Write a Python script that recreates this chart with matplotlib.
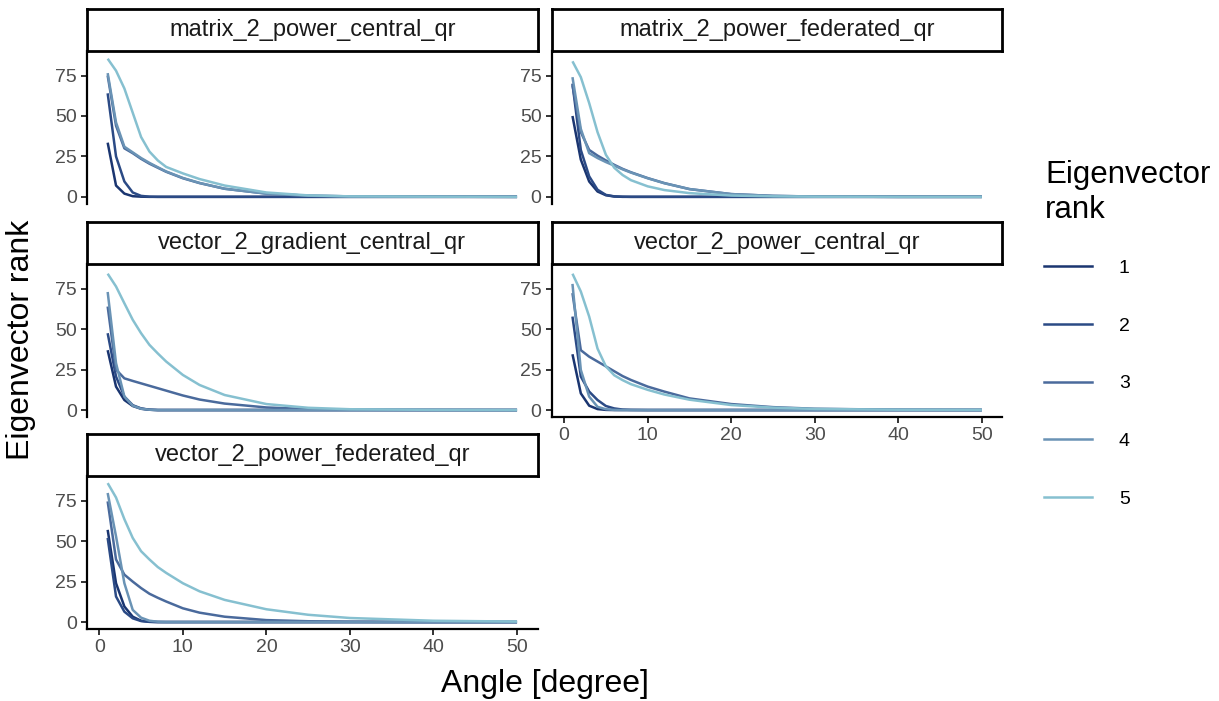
import matplotlib
matplotlib.use("Agg")
import matplotlib.pyplot as plt
from matplotlib.lines import Line2D

plt.rcParams['font.family'] = ['Liberation Sans', 'DejaVu Sans']

angle = [1, 2, 3, 4, 5, 6, 7, 8, 10, 12, 15, 20, 25, 30, 40, 50]

ranks = ['1', '2', '3', '4', '5']
rank_colors = ['#1a3570', '#2b4a85', '#4a6a9c', '#6a93b5', '#86c0d0']

# one row per eigenvector rank (1..5)
matrix_2_power_central_qr = [
    [33.5, 7.0, 2.0, 0.4, 0.1, 0, 0, 0, 0, 0, 0, 0, 0, 0, 0, 0],
    [64.0, 25.0, 9.5, 2.7, 0.6, 0.1, 0, 0, 0, 0, 0, 0, 0, 0, 0, 0],
    [75.0, 44.0, 30.0, 27.0, 23.5, 20.5, 18.0, 15.5, 11.5, 8.5, 5.0, 2.0, 0.7, 0.3, 0.1, 0],
    [76.5, 46.0, 31.0, 27.5, 24.0, 21.0, 18.3, 15.7, 11.7, 8.6, 5.0, 2.0, 0.7, 0.3, 0.1, 0],
    [85.4, 78.0, 67.0, 52.0, 37.0, 28.0, 22.5, 18.5, 14.5, 11.0, 7.0, 2.7, 0.9, 0.3, 0.1, 0],
]
matrix_2_power_federated_qr = [
    [50.0, 23.0, 9.5, 3.3, 1.0, 0.2, 0, 0, 0, 0, 0, 0, 0, 0, 0, 0],
    [70.0, 29.0, 12.7, 4.4, 1.2, 0.3, 0.1, 0, 0, 0, 0, 0, 0, 0, 0, 0],
    [69.0, 40.0, 29.0, 25.5, 22.5, 19.8, 17.3, 15.2, 11.6, 8.5, 4.8, 1.7, 0.6, 0.2, 0, 0],
    [74.0, 42.0, 27.0, 24.0, 21.5, 19.3, 17.0, 15.0, 11.5, 8.4, 4.8, 1.7, 0.6, 0.2, 0, 0],
    [83.8, 74.0, 58.0, 40.0, 26.0, 18.0, 13.5, 10.3, 6.5, 4.2, 2.3, 0.8, 0.3, 0.1, 0, 0],
]
vector_2_gradient_central_qr = [
    [37.0, 14.5, 6.2, 2.5, 0.8, 0.2, 0, 0, 0, 0, 0, 0, 0, 0, 0, 0],
    [47.5, 20.7, 8.3, 3.0, 1.0, 0.2, 0, 0, 0, 0, 0, 0, 0, 0, 0, 0],
    [64.0, 25.0, 19.6, 18.0, 16.5, 15.0, 13.5, 12.0, 9.0, 6.5, 4.0, 1.6, 0.6, 0.2, 0.1, 0],
    [73.0, 29.0, 8.3, 2.7, 0.8, 0.2, 0, 0, 0, 0, 0, 0, 0, 0, 0, 0],
    [84.3, 76.4, 66.0, 55.8, 47.5, 40.3, 35.0, 30.0, 21.7, 15.5, 9.3, 3.7, 1.4, 0.5, 0.1, 0],
]
vector_2_power_central_qr = [
    [34.5, 10.3, 2.7, 0.6, 0.1, 0, 0, 0, 0, 0, 0, 0, 0, 0, 0, 0],
    [57.8, 20.7, 11.4, 6.2, 2.5, 1.0, 0.3, 0.1, 0, 0, 0, 0, 0, 0, 0, 0],
    [72.3, 37.0, 33.0, 30.0, 27.0, 24.0, 21.0, 18.6, 14.5, 11.4, 7.2, 3.7, 1.8, 0.8, 0.2, 0.1],
    [78.0, 24.8, 8.3, 2.0, 0.5, 0.1, 0, 0, 0, 0, 0, 0, 0, 0, 0, 0],
    [84.3, 73.3, 57.8, 38.0, 27.0, 21.5, 18.5, 16.0, 12.5, 9.6, 6.4, 3.1, 1.5, 0.7, 0.2, 0.1],
]
vector_2_power_federated_qr = [
    [57.0, 24.0, 9.6, 3.3, 0.8, 0.2, 0, 0, 0, 0, 0, 0, 0, 0, 0, 0],
    [52.0, 15.8, 6.4, 2.3, 0.6, 0.1, 0, 0, 0, 0, 0, 0, 0, 0, 0, 0],
    [74.6, 38.7, 29.3, 25.0, 21.0, 17.5, 15.0, 12.7, 8.5, 5.8, 3.3, 1.2, 0.5, 0.2, 0, 0],
    [79.8, 53.0, 24.0, 7.5, 2.7, 0.8, 0.2, 0, 0, 0, 0, 0, 0, 0, 0, 0],
    [85.9, 77.0, 63.6, 52.0, 43.8, 38.7, 34.0, 30.4, 24.0, 19.0, 13.7, 7.9, 4.5, 2.5, 0.8, 0.3],
]

panels = [
    ('matrix_2_power_central_qr', matrix_2_power_central_qr, 0, 0),
    ('matrix_2_power_federated_qr', matrix_2_power_federated_qr, 0, 1),
    ('vector_2_gradient_central_qr', vector_2_gradient_central_qr, 1, 0),
    ('vector_2_power_central_qr', vector_2_power_central_qr, 1, 1),
    ('vector_2_power_federated_qr', vector_2_power_federated_qr, 2, 0),
]

W, H = 1219, 701
fig = plt.figure(figsize=(W / 100, H / 100), dpi=100)

col_x = [87.2, 552.0]
panel_w = 450.3
row_top = [50.8, 264.0, 476.0]
panel_h = 153.0
strip_h = 42.0

tick_col = '#4d4d4d'
for name, vals, r, c in panels:
    x0 = col_x[c] / W
    y0 = 1 - (row_top[r] + panel_h) / H
    ax = fig.add_axes([x0, y0, panel_w / W, panel_h / H])
    for k in range(5):
        ax.plot(angle, vals[k], color=rank_colors[k], lw=1.8, solid_capstyle='butt')
    ax.set_xlim(-1.45, 52.45)
    ax.set_ylim(-4.3, 90.3)
    ax.set_yticks([0, 25, 50, 75])
    ax.set_xticks([0, 10, 20, 30, 40, 50])
    for s in ['top', 'right']:
        ax.spines[s].set_visible(False)
    ax.spines['left'].set_linewidth(1.6)
    bottom_row = (c == 0 and r == 2) or (c == 1 and r == 1)
    if bottom_row:
        ax.spines['bottom'].set_linewidth(1.6)
        ax.tick_params(axis='x', length=4.5, width=1.4, color='#333333',
                       labelsize=14, labelcolor=tick_col, pad=3)
    else:
        ax.spines['bottom'].set_visible(False)
        ax.tick_params(axis='x', bottom=False, labelbottom=False)
    ax.tick_params(axis='y', length=4.5, width=1.4, color='#333333',
                   labelsize=14, labelcolor=tick_col, pad=3)

    # facet strip
    sax = fig.add_axes([x0, 1 - (row_top[r]) / H, panel_w / W, strip_h / H])
    sax.set_xticks([])
    sax.set_yticks([])
    for s in sax.spines.values():
        s.set_linewidth(2.0)
        s.set_color('black')
    sax.text(0.5, 0.5, name, ha='center', va='center', fontsize=17,
             color='#1a1a1a', transform=sax.transAxes)

fig.text(21 / W, 1 - 340 / H, 'Eigenvector rank', rotation=90, ha='center',
         va='center', fontsize=23)
fig.text(544.5 / W, 1 - 684 / H, 'Angle [degree]', ha='center', va='center',
         fontsize=23)

# legend title drawn as text, keys below it
fig.text(1045 / W, 1 - 192.5 / H, 'Eigenvector\nrank', ha='left', va='center',
         fontsize=22.5, linespacing=1.25)
handles = [Line2D([0], [0], color=rank_colors[k], lw=1.8) for k in range(5)]
leg = fig.legend(handles, ranks, loc='upper left',
                 bbox_to_anchor=(1044 / W, 1 - 259.5 / H), frameon=False,
                 fontsize=14, labelspacing=2.06,
                 handlelength=2.45, handletextpad=1.4,
                 borderaxespad=0, borderpad=0)

fig.savefig('out.png', dpi=100)
